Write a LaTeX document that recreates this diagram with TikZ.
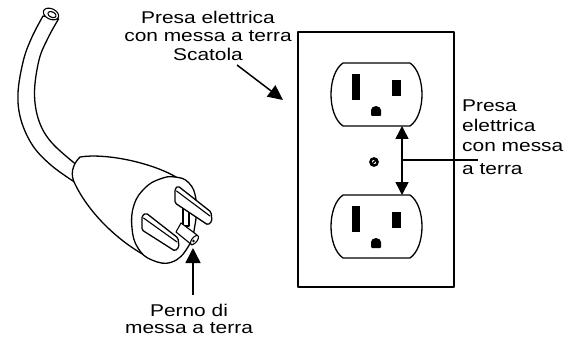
\documentclass[tikz,border=0pt]{standalone}
\usepackage{fontspec}
\setmainfont{Liberation Sans}
\usepackage{graphicx}
\usetikzlibrary{arrows.meta}
% the lettering is set wide
\newcommand{\stretchx}[1]{\scalebox{1.23}[1]{#1}}
\begin{document}
\begin{tikzpicture}[x=1pt,y=-1pt,
  outline/.style={line width=1.3pt, line join=round, line cap=round},
  thin outline/.style={line width=1.1pt, line join=round, line cap=round},
  txt/.style={inner sep=0pt},
  leadarrow/.style={line width=1.5pt, -{Triangle[length=15pt,width=14pt]}},
  twoway/.style={line width=1.5pt, {Triangle[length=13pt,width=13pt]}-{Triangle[length=13pt,width=13pt]}}]
\useasboundingbox (0,0) rectangle (577,339);

% ---------- wall box with duplex receptacle ----------
\draw[outline] (298,32) rectangle (454,287);
\foreach \dy in {0,132} {
  \draw[outline] (343,{63+\dy}) -- (410,{63+\dy})
    .. controls (426,{74+\dy}) and (426,{115+\dy}) .. (410,{126+\dy})
    -- (343,{126+\dy})
    .. controls (327,{115+\dy}) and (327,{74+\dy}) .. cycle;
  \fill (352,{74+\dy}) rectangle (360,{100+\dy});
  \fill (392,{80+\dy}) rectangle (401,{96+\dy});
  \fill[rounded corners=1pt] (371,{116+\dy}) -- (371,{111+\dy})
    arc[start angle=180, end angle=360, radius=5] -- (381,{116+\dy}) -- cycle;
}
% centre screw
\draw[line width=2.4pt] (374,162) circle (3.6);
\draw[line width=1.5pt] (371.4,164.6) -- (376.6,159.4);

\coordinate (outA) at (402,126);
\coordinate (outB) at (402,195);
\coordinate (outmid) at (402,160);
\draw[twoway] (outA) -- (outB);

% ---------- labels ----------
\node[txt, anchor=north, align=center, font=\fontsize{17}{18.5}\selectfont]
  (lblbox) at (208,10.8)
  {\stretchx{Presa elettrica}\\\stretchx{con messa a terra}\\\stretchx{Scatola}};
\node[txt, anchor=north west, align=left, font=\fontsize{17}{20}\selectfont]
  (lblout) at (462,99.8)
  {\stretchx{Presa}\\\stretchx{elettrica}\\\stretchx{con messa}\\[3pt]\stretchx{a terra}};
\node[txt, anchor=north, align=center, font=\fontsize{17}{17}\selectfont]
  (lblpin) at (189,303.8)
  {\stretchx{Perno di}\\\stretchx{messa a terra}};

\coordinate (boxfrom) at (237,65);
\coordinate (boxtip) at (283,100);
\draw[leadarrow] (boxfrom) -- (boxtip);

\coordinate (leadend) at (478,160);
\draw[line width=1.2pt] (outmid) -- (leadend);

% ---------- plug with cord ----------
% cord
\draw[outline, fill=white]
  plot[smooth, tension=0.6] coordinates {(43,16) (32,37) (23.5,60) (18,93) (21,120) (33,146) (52,166) (76,183)}
  -- (78,166)
  -- plot[smooth, tension=0.6] coordinates {(78,166) (52,143) (39,121) (34.5,93) (39,60) (48,38) (58.5,19)}
  -- cycle;
% cut end of the cord
\draw[thin outline, fill=white] plot[domain=0:360, samples=48, smooth, variable=\t]
  ({51+8*cos(\t)*0.906-5.2*sin(\t)*0.423}, {14+8*cos(\t)*0.423+5.2*sin(\t)*0.906});
\draw[thin outline] plot[domain=0:360, samples=36, smooth, variable=\t]
  ({52+4.2*cos(\t)*0.906-2.6*sin(\t)*0.423}, {14.6+4.2*cos(\t)*0.423+2.6*sin(\t)*0.906});

% plug body
\draw[outline, fill=white]
  (80,157) .. controls (105,153) and (150,162) .. (176,177)
  -- (186,210) -- (152,258)
  -- (146,256) .. controls (120,242) and (90,215) .. (75,184)
  .. controls (70,175) and (72,165) .. (80,157) -- cycle;
% face of the plug
\draw[outline, fill=white] plot[smooth cycle, tension=0.75] coordinates
  {(175,177) (189,183) (196,200) (195,225) (188,247) (172,262) (152,260) (138,248) (132,228) (134,205) (145,188) (160,179)};

% grounding pin and its neck
\draw[thin outline, fill=white] (183,208) rectangle (189,226);
\draw[thin outline, fill=white]
  (176,232) -- (181,223) -- (197,235) -- (192,245) -- cycle;
\draw[thin outline, fill=white] plot[domain=0:360, samples=36, smooth, variable=\t]
  ({194.5+2.6*cos(\t)*0.77-5.4*sin(\t)*0.63}, {240+2.6*cos(\t)*0.63+5.4*sin(\t)*0.77});
\fill (193.5,241) circle (1.4);

% flat blades
\draw[outline, fill=white, rounded corners=1.5pt]
  (175,189) -- (178,186) -- (211,212) -- (212,221) -- (208,225) -- (175,203) -- cycle;
\draw[thin outline] (176.5,191) -- (210,216);
\draw[outline, fill=white, rounded corners=1.5pt]
  (142,216) -- (146,213) -- (178,238) -- (179,247) -- (175,251) -- (142,230) -- cycle;
\draw[thin outline] (143.5,218) -- (177,242);

\coordinate (pinfrom) at (193,295);
\coordinate (pintip) at (193,248);
\draw[leadarrow, -{Triangle[length=15pt,width=15pt]}] (pinfrom) -- (pintip);
\end{tikzpicture}
\end{document}
